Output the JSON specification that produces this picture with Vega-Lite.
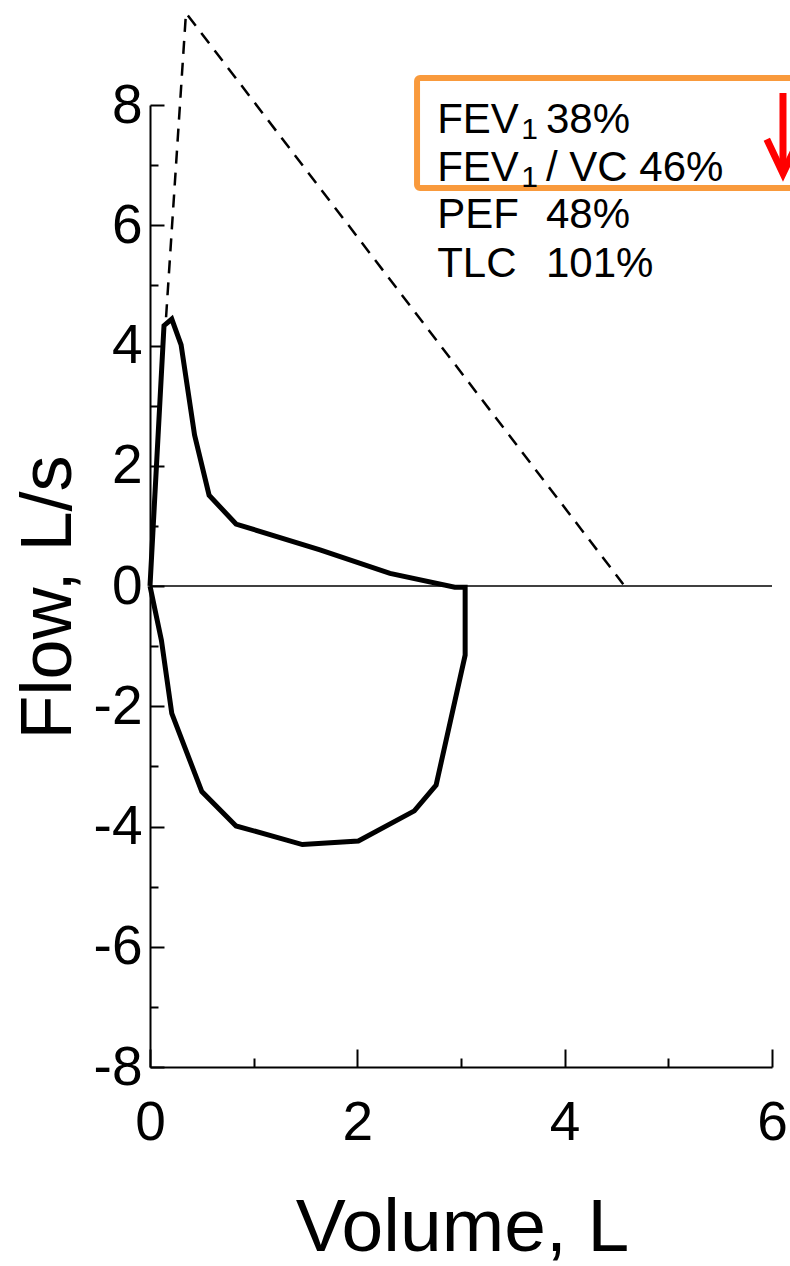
{
  "$schema": "https://vega.github.io/schema/vega-lite/v6.json",
  "width": 622,
  "height": 962,
  "autosize": {"type": "none"},
  "padding": {"left": 150, "top": 105, "right": 18, "bottom": 199},
  "background": "white",
  "config": {
    "view": {"stroke": null},
    "font": "Liberation Sans",
    "axis": {
      "grid": false,
      "domainColor": "black",
      "domainWidth": 2,
      "tickColor": "black",
      "tickWidth": 2,
      "labelColor": "black",
      "labelFont": "Liberation Sans",
      "labelFontSize": 55,
      "labelFlush": false,
      "labelOverlap": false,
      "labelBound": false,
      "titleColor": "black",
      "titleFont": "Liberation Sans",
      "titleFontWeight": "normal"
    }
  },
  "datasets": {
    "loop": [
      {"o": 1, "v": 0, "f": 0},
      {"o": 2, "v": 0.135, "f": 4.33},
      {"o": 3, "v": 0.21, "f": 4.44},
      {"o": 4, "v": 0.3, "f": 4.01},
      {"o": 5, "v": 0.43, "f": 2.51},
      {"o": 6, "v": 0.57, "f": 1.51},
      {"o": 7, "v": 0.83, "f": 1.03},
      {"o": 8, "v": 1.64, "f": 0.6},
      {"o": 9, "v": 2.315, "f": 0.21},
      {"o": 10, "v": 2.94, "f": -0.02},
      {"o": 11, "v": 3.04, "f": -0.02},
      {"o": 12, "v": 3.04, "f": -1.15},
      {"o": 13, "v": 2.76, "f": -3.31},
      {"o": 14, "v": 2.55, "f": -3.74},
      {"o": 15, "v": 2.01, "f": -4.24},
      {"o": 16, "v": 1.47, "f": -4.3},
      {"o": 17, "v": 0.83, "f": -3.99},
      {"o": 18, "v": 0.5, "f": -3.42},
      {"o": 19, "v": 0.21, "f": -2.12},
      {"o": 20, "v": 0.11, "f": -0.9},
      {"o": 21, "v": 0, "f": 0}
    ],
    "predicted": [
      {"o": 1, "v": 0.155, "f": 4.47},
      {"o": 2, "v": 0.347, "f": 9.53},
      {"o": 3, "v": 4.565, "f": 0.03}
    ],
    "zero": [{"v": 0, "f": 0}, {"v": 6, "f": 0}],
    "box": [{"v1": 2.576, "v2": 6.5, "f1": 8.449, "f2": 6.62}],
    "arrow": [
      {"part": "shaft", "o": 1, "v": 6.106, "f": 8.2},
      {"part": "shaft", "o": 2, "v": 6.106, "f": 6.9},
      {"part": "head", "o": 1, "v": 5.95, "f": 7.43},
      {"part": "head", "o": 2, "v": 6.106, "f": 6.86},
      {"part": "head", "o": 3, "v": 6.262, "f": 7.43}
    ],
    "labels": [
      {"v": 2.77, "f": 7.534, "t": "FEV"},
      {"v": 3.82, "f": 7.534, "t": "38%"},
      {"v": 2.77, "f": 6.736, "t": "FEV"},
      {"v": 3.82, "f": 6.736, "t": "/ VC 46%"},
      {"v": 2.77, "f": 5.954, "t": "PEF"},
      {"v": 3.82, "f": 5.954, "t": "48%"},
      {"v": 2.77, "f": 5.139, "t": "TLC"},
      {"v": 3.82, "f": 5.139, "t": "101%"}
    ],
    "subs": [
      {"v": 3.58, "f": 7.43, "t": "1"},
      {"v": 3.58, "f": 6.64, "t": "1"}
    ]
  },
  "layer": [
    {
      "data": {"name": "loop"},
      "mark": {"type": "line", "color": "black", "strokeWidth": 5, "strokeJoin": "miter", "clip": false},
      "encoding": {
        "x": {
          "field": "v", "type": "quantitative",
          "scale": {"domain": [0, 6], "nice": false, "zero": false},
          "axis": {
            "orient": "bottom",
            "values": [0, 2, 4, 6],
            "tickSize": -18,
            "labelPadding": 47,
            "labelExpr": "'' + datum.value",
            "title": "Volume, L",
            "titleFontSize": 75,
            "titleX": 312,
            "titleY": 183,
            "titleAlign": "center",
            "titleBaseline": "alphabetic"
          }
        },
        "y": {
          "field": "f", "type": "quantitative",
          "scale": {"domain": [-8, 8], "nice": false, "zero": false},
          "axis": {
            "orient": "left",
            "values": [-8, -6, -4, -2, 0, 2, 4, 6, 8],
            "tickSize": -14,
            "labelPadding": 22,
            "labelExpr": "'' + datum.value",
            "title": "Flow, L/s",
            "titleFontSize": 72,
            "titleAngle": 270,
            "titleX": -80,
            "titleY": 492,
            "titleAlign": "center",
            "titleBaseline": "alphabetic"
          }
        },
        "order": {"field": "o", "type": "quantitative"}
      }
    },
    {
      "data": {"name": "zero"},
      "mark": {"type": "line", "color": "black", "strokeWidth": 1.5},
      "encoding": {
        "x": {
          "field": "v", "type": "quantitative",
          "axis": {"orient": "bottom", "values": [1, 3, 5], "tickSize": -9, "labels": false, "domain": false, "title": null}
        },
        "y": {
          "field": "f", "type": "quantitative",
          "axis": {"orient": "left", "values": [-7, -5, -3, -1, 1, 3, 5, 7], "tickSize": -8, "labels": false, "domain": false, "title": null}
        }
      }
    },
    {
      "data": {"name": "predicted"},
      "mark": {"type": "line", "color": "black", "strokeWidth": 2.5, "strokeDash": [13, 9], "clip": false},
      "encoding": {
        "x": {"field": "v", "type": "quantitative", "axis": null},
        "y": {"field": "f", "type": "quantitative", "axis": null},
        "order": {"field": "o", "type": "quantitative"}
      }
    },
    {
      "data": {"name": "box"},
      "mark": {"type": "rect", "fill": null, "fillOpacity": 0, "stroke": "#F99A3C", "strokeWidth": 6, "cornerRadius": 3, "clip": false},
      "encoding": {
        "x": {"field": "v1", "type": "quantitative", "axis": null},
        "x2": {"field": "v2"},
        "y": {"field": "f1", "type": "quantitative", "axis": null},
        "y2": {"field": "f2"}
      }
    },
    {
      "data": {"name": "arrow"},
      "mark": {"type": "line", "color": "#FF0000", "strokeWidth": 7, "strokeJoin": "miter", "clip": false},
      "encoding": {
        "x": {"field": "v", "type": "quantitative", "axis": null},
        "y": {"field": "f", "type": "quantitative", "axis": null},
        "detail": {"field": "part"},
        "order": {"field": "o", "type": "quantitative"}
      }
    },
    {
      "data": {"name": "labels"},
      "mark": {"type": "text", "align": "left", "baseline": "alphabetic", "font": "Liberation Sans", "fontSize": 42, "color": "black"},
      "encoding": {
        "x": {"field": "v", "type": "quantitative", "axis": null},
        "y": {"field": "f", "type": "quantitative", "axis": null},
        "text": {"field": "t"}
      }
    },
    {
      "data": {"name": "subs"},
      "mark": {"type": "text", "align": "left", "baseline": "alphabetic", "font": "Liberation Sans", "fontSize": 30, "color": "black"},
      "encoding": {
        "x": {"field": "v", "type": "quantitative", "axis": null},
        "y": {"field": "f", "type": "quantitative", "axis": null},
        "text": {"field": "t"}
      }
    }
  ],
  "resolve": {"axis": {"x": "independent", "y": "independent"}}
}
